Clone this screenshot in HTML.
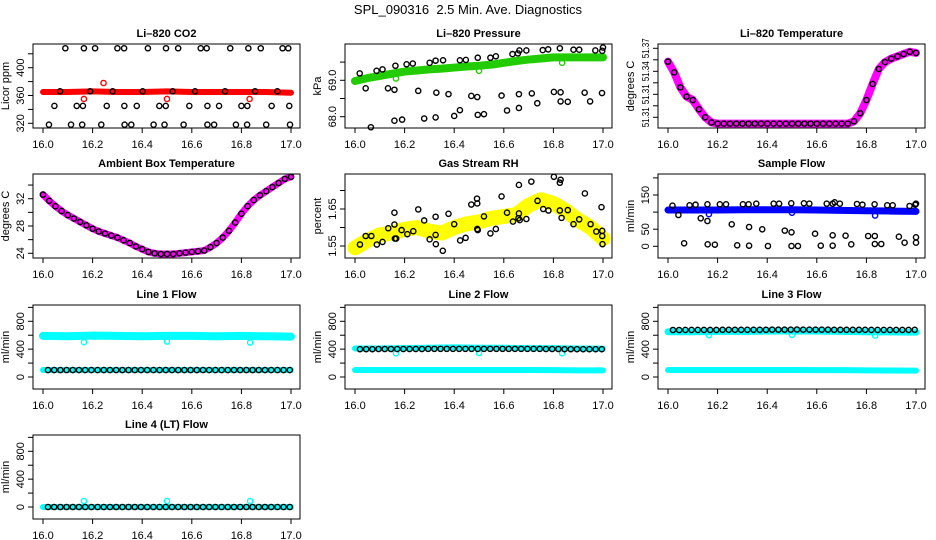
<!DOCTYPE html>
<html><head><meta charset="utf-8"><style>
html,body{margin:0;padding:0;background:#fff;}
svg{display:block;font-family:"Liberation Sans",sans-serif;}
</style></head><body>
<svg id="c" width="936" height="540" viewBox="0 0 936 540" xmlns="http://www.w3.org/2000/svg">
<text x="468" y="14" text-anchor="middle" font-size="13" style="white-space:pre">SPL_090316  2.5 Min. Ave. Diagnostics</text>
</svg>
<script>
// ---------- shared ----------
const xTicks=[16.0,16.2,16.4,16.6,16.8,17.0];
const xTickLabels=["16.0","16.2","16.4","16.6","16.8","17.0"];
const tFlow=[16.02,16.045,16.07,16.095,16.12,16.145,16.17,16.195,16.22,16.245,16.27,16.295,16.32,16.345,16.37,16.395,16.42,16.445,16.47,16.495,16.52,16.545,16.57,16.595,16.62,16.645,16.67,16.695,16.72,16.745,16.77,16.795,16.82,16.845,16.87,16.895,16.92,16.945,16.97,16.995];
const tCurve=[16.0,16.025,16.05,16.075,16.1,16.125,16.15,16.175,16.2,16.225,16.25,16.275,16.3,16.325,16.35,16.375,16.4,16.425,16.45,16.475,16.5,16.525,16.55,16.575,16.6,16.625,16.65,16.675,16.7,16.725,16.75,16.775,16.8,16.825,16.85,16.875,16.9,16.925,16.95,16.975,17.0];
const tBand=[16.0,16.1,16.2,16.3,16.4,16.5,16.6,16.7,16.8,16.9,17.0];
const tBand21=[16.0,16.05,16.1,16.15,16.2,16.25,16.3,16.35,16.4,16.45,16.5,16.55,16.6,16.65,16.7,16.75,16.8,16.85,16.9,16.95,17.0];
const tOut=[16.165,16.5,16.835];

// ---------- CO2 ----------
const co2Band=[365,365,366,365,365,366,365,365,365,365,364];
const co2RedOutT=[16.165,16.244,16.5,16.833];
const co2RedOutV=[355,378,355,355];
const co2BlackT=[16.09,16.165,16.21,16.30,16.327,16.423,16.496,16.545,16.636,16.66,16.755,16.828,16.878,16.966,16.989,
16.024,16.113,16.158,16.235,16.329,16.356,16.446,16.49,16.567,16.663,16.69,16.778,16.823,16.90,16.996,
16.046,16.136,16.161,16.257,16.328,16.378,16.469,16.495,16.59,16.663,16.71,16.80,16.824,16.922,16.993,
16.069,16.19,16.281,16.402,16.523,16.613,16.734,16.855,16.945];
const co2BlackV=[428,428,428,428,428,428,428,428,428,428,428,428,428,428,428,
318,318,318,318,318,318,318,318,318,318,318,318,318,318,318,
345,345,345,345,345,345,345,345,345,345,345,345,345,345,345,
366,366,366,366,366,366,366,366,366];

// ---------- Pressure ----------
const presBand=[68.98,69.06,69.12,69.18,69.24,69.27,69.30,69.32,69.35,69.38,69.40,69.43,69.48,69.53,69.57,69.60,69.63,69.63,69.63,69.63,69.63];
const presOutV=[69.05,69.26,69.48];
const presBlackT=[16.019,16.043,16.064,16.087,16.111,16.133,16.159,16.163,16.159,16.19,16.208,16.233,16.255,16.279,16.301,16.325,16.328,16.325,16.355,16.377,16.4,16.423,16.447,16.423,16.469,16.493,16.495,16.495,16.52,16.546,16.568,16.591,16.613,16.635,16.657,16.661,16.661,16.663,16.691,16.713,16.735,16.757,16.779,16.802,16.826,16.829,16.829,16.858,16.881,16.904,16.926,16.948,16.969,16.997,16.996,17.0];
const presBlackV=[69.19,68.78,67.71,69.26,69.30,68.78,68.74,69.40,67.89,67.92,69.44,69.46,68.71,67.95,69.48,67.98,68.66,69.54,69.55,68.62,68.02,69.55,69.56,68.18,68.57,68.54,68.05,69.62,68.07,69.62,69.66,68.58,68.17,69.72,69.74,68.62,68.24,69.82,69.82,68.64,68.37,69.83,69.85,68.68,69.88,68.67,68.42,68.41,69.84,69.84,68.66,68.42,69.82,69.81,68.65,69.90];

// ---------- Li-820 temperature ----------
const liTemp=[51.3484,51.3390,51.3260,51.3180,51.3150,51.3070,51.3000,51.2955,51.2945,51.2945,51.2945,51.2945,51.2945,51.2945,51.2945,51.2945,51.2945,51.2945,51.2945,51.2945,51.2945,51.2945,51.2945,51.2945,51.2945,51.2945,51.2945,51.2945,51.2945,51.2945,51.2965,51.3035,51.3150,51.3290,51.3420,51.3480,51.3510,51.3530,51.3550,51.3570,51.3560];

// ---------- Ambient ----------
const ambTemp=[32.6,31.7,30.9,30.2,29.6,29.1,28.6,28.1,27.6,27.2,26.9,26.6,26.3,25.9,25.5,25.0,24.6,24.2,24.0,23.9,23.9,23.9,24.0,24.1,24.2,24.3,24.4,24.9,25.5,26.3,27.3,28.5,29.8,30.9,31.8,32.5,33.1,33.7,34.3,34.9,35.2];

// ---------- RH ----------
const rhBand=[1.545,1.565,1.58,1.585,1.595,1.60,1.59,1.585,1.60,1.61,1.615,1.625,1.63,1.635,1.66,1.675,1.665,1.645,1.62,1.60,1.57];
const rhBlackT=[16.020,16.043,16.066,16.088,16.111,16.134,16.159,16.159,16.161,16.166,16.188,16.211,16.235,16.255,16.279,16.301,16.325,16.325,16.326,16.354,16.377,16.40,16.424,16.446,16.469,16.492,16.493,16.493,16.495,16.52,16.546,16.568,16.591,16.613,16.637,16.659,16.661,16.661,16.664,16.691,16.711,16.736,16.759,16.78,16.802,16.826,16.829,16.826,16.833,16.858,16.881,16.904,16.927,16.95,16.973,16.994,16.997,16.997,16.998];
const rhBlackV=[1.554,1.577,1.577,1.554,1.561,1.598,1.640,1.608,1.570,1.570,1.593,1.582,1.590,1.649,1.619,1.568,1.629,1.580,1.555,1.537,1.637,1.609,1.565,1.572,1.662,1.678,1.665,1.596,1.593,1.630,1.584,1.596,1.684,1.640,1.616,1.625,1.715,1.638,1.620,1.623,1.724,1.672,1.650,1.646,1.737,1.721,1.729,1.646,1.626,1.647,1.609,1.622,1.692,1.609,1.589,1.655,1.591,1.577,1.555];

// ---------- Sample flow ----------
const sfBand=[106,106,106,107,107,107,106,105,104,103,102];
const sfOutV=[94,98,90];
const sfBlackT=[16.018,16.042,16.065,16.087,16.111,16.132,16.159,16.159,16.160,16.189,16.209,16.234,16.257,16.279,16.302,16.325,16.327,16.327,16.356,16.380,16.403,16.426,16.448,16.471,16.497,16.498,16.498,16.524,16.548,16.570,16.593,16.616,16.640,16.664,16.664,16.664,16.672,16.693,16.716,16.739,16.762,16.784,16.807,16.833,16.834,16.834,16.860,16.884,16.906,16.931,16.954,16.974,16.997,17.0,17.0,17.0];
const sfBlackV=[118.7,91.5,8.8,119.9,121.6,81.9,122.8,74.0,5.8,4.8,122.8,122.8,64.3,2.9,122.8,122.8,56.4,1.9,124.6,49.7,0.9,124.6,124.6,45.8,125.7,40.9,0.9,0.9,125.7,124.6,36.8,1.9,124.6,1.9,32.2,124.6,128.7,124.6,31.0,5.8,123.7,121.6,30.1,122.8,30.1,6.7,6.7,119.9,119.9,28.1,10.5,117.8,121.6,26.3,10.5,124.6];

// ---------- Line flows ----------
const l1Black=[100,100,100,100,100,100,100,100,100,100,100,100,100,100,100,100,100,100,100,100,100,100,100,100,100,100,100,100,100,100,100,100,100,100,100,100,100,100,100,100];
const l1CyanHi=[590,585,595,590,585,590,590,585,590,585,580];
const l1CyanLo=[100,100,100,100,100,100,100,100,100,100,100];
const l1Out=[500,510,495];
const l2Black=[400,400,400,402,402,402,402,402,402,402,402,404,404,404,404,404,404,404,404,404,404,404,404,404,404,404,404,404,404,404,402,402,402,400,400,400,400,400,400,400];
const l2CyanHi=[410,410,415,420,425,420,420,415,415,410,405];
const l2CyanLo=[100,100,100,100,100,100,100,100,98,96,95];
const l2Out=[340,345,340];
const l3Black=[675,675,676,676,676,676,676,676,678,678,678,678,678,678,678,678,680,680,680,680,682,680,680,680,680,680,678,678,678,678,678,678,676,676,676,676,676,676,676,678];
const l3CyanHi=[650,650,655,655,660,660,660,655,650,648,645];
const l3CyanLo=[100,100,100,100,100,100,98,98,96,94,92];
const l3Out=[600,605,595];
const l4Black=[0,0,0,0,0,0,0,0,0,0,0,0,0,0,0,0,0,0,0,0,0,0,0,0,0,0,0,0,0,0,0,0,0,0,0,0,0,0,0,0];
const l4Cyan=[0,0,0,0,0,0,0,0,0,0,0];
const l4Out=[85,85,85];

// ---------- drawing ----------
const NS="http://www.w3.org/2000/svg";
const svg=document.getElementById('c');
const W=267,H=84;
const colX=[33,345,658], rowY=[44,174,305,435];
function mk(tag,attrs,parent){const e=document.createElementNS(NS,tag);for(const k in attrs)e.setAttribute(k,attrs[k]);(parent||svg).appendChild(e);return e;}

function panel(col,row,cfg){
  const bx=colX[col], by=rowY[row];
  const g=mk('g',{});
  
  
  const xs=t=>bx+10+(t-16)*248;
  const ys=v=>by+cfg.p0+(v-cfg.v0)*(cfg.p1-cfg.p0)/(cfg.v1-cfg.v0);
  const tt=mk('text',{x:bx+W/2,y:by-7,'text-anchor':'middle','font-size':11,'font-weight':'bold'},g);
  tt.textContent=cfg.title;
  
  
  const plot=mk('g',{},g);
  
  
  const fr=mk('rect',{x:bx,y:by,width:W,height:H,fill:'none',stroke:'#000','stroke-width':1},g);
  
  
  const xa=mk('g',{},g);
  
  
  mk('line',{x1:xs(16),x2:xs(17),y1:by+H,y2:by+H,stroke:'#000'},xa);
  xTicks.forEach((t,i)=>{
    mk('line',{x1:xs(t),x2:xs(t),y1:by+H,y2:by+H+5,stroke:'#000'},xa);
    const l=mk('text',{x:xs(t),y:by+H+20,'text-anchor':'middle','font-size':11},xa);
    l.textContent=xTickLabels[i];
    
    
  });
  const ya=mk('g',{},g);
  
  
  mk('line',{x1:bx,x2:bx,y1:ys(cfg.ticks[0]),y2:ys(cfg.ticks[cfg.ticks.length-1]),stroke:'#000'},ya);
  cfg.ticks.forEach(v=>{mk('line',{x1:bx,x2:bx-5,y1:ys(v),y2:ys(v),stroke:'#000'},ya);});
  cfg.labelVals.forEach((v,i)=>{
    const x=bx-9, y=ys(v);
    const attrs={x:x,y:y,'text-anchor':'middle','font-size':cfg.lfs||11,transform:`rotate(-90 ${x} ${y})`};
    if(cfg.tl){attrs.textLength=cfg.tl;attrs.lengthAdjust='spacingAndGlyphs';}
    const l=mk('text',attrs,ya);
    l.textContent=cfg.labels[i];
    
    
  });
  const yx=bx-24, yy=by+H/2;
  const yl=mk('text',{x:yx,y:yy,'text-anchor':'middle','font-size':11,transform:`rotate(-90 ${yx} ${yy})`},g);
  yl.textContent=cfg.ylab;
  
  
  return {xs,ys,plot};
}
function band(P,ts,vs,color,w,name){
  const pl=mk('polyline',{points:ts.map((t,i)=>P.xs(t)+','+P.ys(vs[i])).join(' '),fill:'none',stroke:color,'stroke-width':w,'stroke-linecap':'round','stroke-linejoin':'round'},P.plot);
  
  
}
function pts(P,ts,vs,color,name,r){
  ts.forEach((t,i)=>{
    const c=mk('circle',{cx:P.xs(t),cy:P.ys(vs[i]),r:r||2.6,fill:'none',stroke:color,'stroke-width':1.4},P.plot);
    
    
  });
}

// CO2
let P=panel(0,0,{name:'co2',title:'Li–820 CO2',ylab:'Licor ppm',v0:320,p0:79.3,v1:400,p1:23.7,ticks:[320,340,360,380,400,420],labelVals:[320,360,400],labels:['320','360','400']});
band(P,tBand,co2Band,'#ff0000',6,'co2-band');
pts(P,co2RedOutT,co2RedOutV,'#ff0000','co2-red-point');
pts(P,co2BlackT,co2BlackV,'#000','co2-black-point');

// Pressure
P=panel(1,0,{name:'pressure',title:'Li–820 Pressure',ylab:'kPa',v0:68,p0:72.7,v1:69,p1:36.3,ticks:[68,68.5,69,69.5],labelVals:[68,69],labels:['68.0','69.0']});
band(P,tBand21,presBand,'#22cc00',8,'pressure-band');
pts(P,tOut,presOutV,'#22cc00','pressure-green-point');
pts(P,presBlackT,presBlackV,'#000','pressure-black-point');

// Li temp
P=panel(2,0,{name:'li-temp',title:'Li–820 Temperature',ylab:'degrees C',lfs:10,tl:20,v0:51.30,p0:73.3,v1:51.36,p1:4.3,ticks:[51.30,51.31,51.32,51.33,51.34,51.35,51.36],labelVals:[51.30,51.32,51.34,51.36],labels:['51.31','51.31','51.34','51.37']});
band(P,tCurve,liTemp,'#ff00ff',8,'li-temp-band');
pts(P,tCurve,liTemp,'#000','li-temp-black-point');

// Ambient
P=panel(0,1,{name:'ambient',title:'Ambient Box Temperature',ylab:'degrees C',v0:24,p0:79.3,v1:32,p1:24.7,ticks:[24,26,28,30,32,34],labelVals:[24,28,32],labels:['24','28','32']});
band(P,tCurve,ambTemp,'#ff00ff',7,'ambient-band');
pts(P,tCurve,ambTemp,'#000','ambient-black-point');

// RH
P=panel(1,1,{name:'rh',title:'Gas Stream RH',ylab:'percent',v0:1.55,p0:72,v1:1.65,p1:35,ticks:[1.55,1.60,1.65,1.70],labelVals:[1.55,1.65],labels:['1.55','1.65']});
band(P,tBand21,rhBand,'#ffff00',15,'rh-band');
pts(P,rhBlackT,rhBlackV,'#000','rh-black-point');

// Sample flow
P=panel(2,1,{name:'sample-flow',title:'Sample Flow',ylab:'ml/min',v0:0,p0:72.3,v1:150,p1:21,ticks:[0,50,100,150,200],labelVals:[0,50,150],labels:['0','50','150']});
band(P,tBand,sfBand,'#0000ff',7,'sample-flow-band');
pts(P,tOut,sfOutV,'#0000ff','sample-flow-blue-point');
pts(P,sfBlackT,sfBlackV,'#000','sample-flow-black-point');

const flowCfg={ylab:'ml/min',v0:0,p0:72,v1:800,p1:16.3,ticks:[0,200,400,600,800,1000],labelVals:[0,400,800],labels:['0','400','800']};
// Line 1
P=panel(0,2,Object.assign({name:'line1-flow',title:'Line 1 Flow'},flowCfg));
band(P,tBand,l1CyanHi,'#00ffff',8,'line1-cyan-high-band');
band(P,tBand,l1CyanLo,'#00ffff',6,'line1-cyan-low-band');
pts(P,tOut,l1Out,'#00ffff','line1-cyan-point');
pts(P,tFlow,l1Black,'#000','line1-black-point');
// Line 2
P=panel(1,2,Object.assign({name:'line2-flow',title:'Line 2 Flow'},flowCfg));
band(P,tBand,l2CyanHi,'#00ffff',6,'line2-cyan-high-band');
band(P,tBand,l2CyanLo,'#00ffff',6,'line2-cyan-low-band');
pts(P,tOut,l2Out,'#00ffff','line2-cyan-point');
pts(P,tFlow,l2Black,'#000','line2-black-point');
// Line 3
P=panel(2,2,Object.assign({name:'line3-flow',title:'Line 3 Flow'},flowCfg));
band(P,tBand,l3CyanHi,'#00ffff',7,'line3-cyan-high-band');
band(P,tBand,l3CyanLo,'#00ffff',6,'line3-cyan-low-band');
pts(P,tOut,l3Out,'#00ffff','line3-cyan-point');
pts(P,tFlow,l3Black,'#000','line3-black-point');
// Line 4
P=panel(0,3,Object.assign({name:'line4-flow',title:'Line 4 (LT) Flow'},flowCfg));
band(P,tBand,l4Cyan,'#00ffff',6,'line4-cyan-band');
pts(P,tOut,l4Out,'#00ffff','line4-cyan-point');
pts(P,tFlow,l4Black,'#000','line4-black-point');
</script>
</body></html>
